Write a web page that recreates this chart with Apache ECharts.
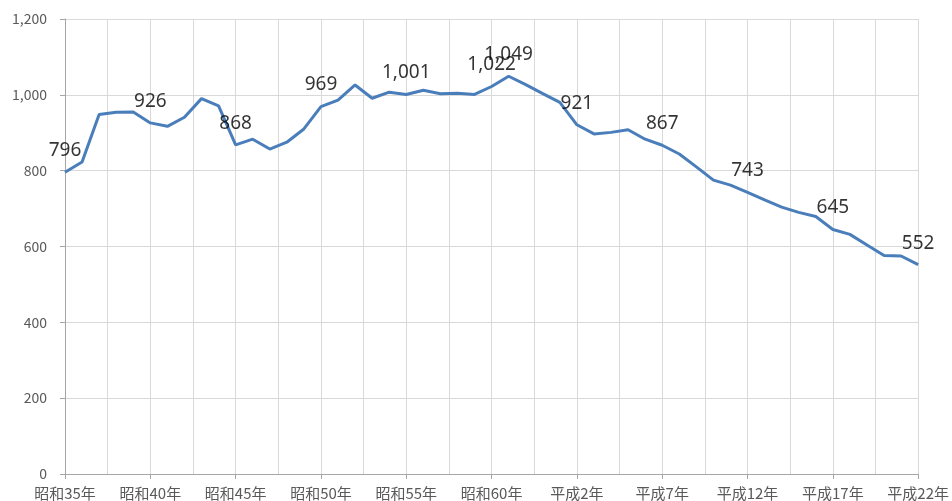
<!DOCTYPE html>
<html>
<head>
<meta charset="utf-8">
<script src="https://cdn.jsdelivr.net/npm/echarts@6/dist/echarts.min.js"></script>
<style>
html, body { margin: 0; padding: 0; background: #fff; }
#chart { width: 952px; height: 501px; }
</style>
</head>
<body>
<div id="chart"></div>
<script>
// data: 昭和35年 (index 0) .. 平成22年 (index 50), one value per year
const values = [
    796, 823, 948, 954, 955, 926, 917, 941, 990, 971,
    868, 883, 857, 875, 910, 969, 986, 1026, 991, 1007,
    1001, 1012, 1003, 1004, 1001, 1022, 1049, 1027, 1003, 980,
    921, 897, 901, 908, 883, 867, 844, 810, 775, 762,
    743, 723, 704, 690, 679, 645, 632, 604, 576, 575,
    552
];
const xLabels = ["昭和35年", "昭和40年", "昭和45年", "昭和50年", "昭和55年", "昭和60年",
    "平成2年", "平成7年", "平成12年", "平成17年", "平成22年"];
const labeledIdx = [0, 5, 10, 15, 20, 25, 26, 30, 35, 40, 45, 50];

const AXIS_FONT = "'Noto Sans CJK JP', 'Noto Sans', sans-serif";

const chart = echarts.init(document.getElementById("chart"), null, { renderer: "canvas" });

function fmt(v) {
    return v.toLocaleString("en-US");
}

const lineData = values.map(function (v, i) { return [i, v]; });
const labelData = labeledIdx.map(function (i) { return [i, values[i]]; });

chart.setOption({
    animation: false,
    grid: { left: 65, right: 32, top: 19, bottom: 26, containLabel: false },
    xAxis: {
        type: "value",
        min: 0,
        max: 50,
        interval: 5,
        axisLine: { show: true, lineStyle: { color: "#a6a6a6", width: 1 } },
        axisTick: { show: true, length: 5, lineStyle: { color: "#a6a6a6" } },
        minorTick: { show: false, splitNumber: 2 },
        splitLine: { show: true, lineStyle: { color: "#d9d9d9", width: 1 } },
        minorSplitLine: { show: true, lineStyle: { color: "#d9d9d9", width: 1 } },
        axisLabel: {
            color: "#595959",
            fontFamily: AXIS_FONT,
            fontSize: 15,
            margin: 12,
            showMinLabel: true,
            showMaxLabel: true,
            formatter: function (v) {
                const k = Math.round(v / 5);
                return xLabels[k] || "";
            }
        }
    },
    yAxis: {
        type: "value",
        min: 0,
        max: 1200,
        interval: 200,
        axisLine: { show: true, lineStyle: { color: "#a6a6a6", width: 1 } },
        axisTick: { show: true, length: 5, lineStyle: { color: "#a6a6a6" } },
        splitLine: { show: true, lineStyle: { color: "#d9d9d9", width: 1 } },
        axisLabel: {
            color: "#595959",
            fontFamily: AXIS_FONT,
            fontSize: 14,
            margin: 18,
            formatter: fmt
        }
    },
    series: [{
        type: "line",
        data: lineData,
        showSymbol: false,
        lineStyle: { color: "#4a7ebb", width: 3 },
        itemStyle: { color: "#4a7ebb" },
        emphasis: { disabled: true },
        z: 2
    }, {
        type: "scatter",
        data: labelData,
        symbol: "circle",
        symbolSize: 2,
        itemStyle: { color: "rgba(0,0,0,0)" },
        emphasis: { disabled: true },
        silent: true,
        z: 3,
        label: {
            show: true,
            position: "top",
            distance: 11,
            color: "#000000",
            fontFamily: "'Noto Sans', sans-serif",
            fontSize: 19,
            formatter: function (p) {
                return fmt(p.value[1]);
            }
        },
        labelLayout: { hideOverlap: false }
    }]
});
</script>
</body>
</html>
